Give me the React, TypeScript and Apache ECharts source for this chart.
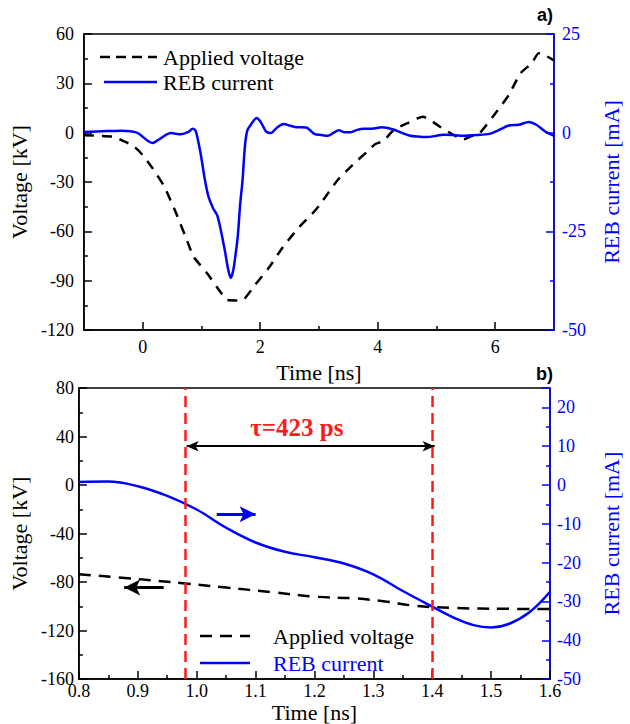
import React, { useEffect, useRef } from "react";
import * as echarts from "echarts";

// ---- Panel a) data ----
const topVoltageTime = [-1.0, -0.5, -0.3, -0.14, 0.0, 0.17, 0.37, 0.57, 0.73, 0.87, 1.1, 1.32, 1.44, 1.6, 1.72, 1.91, 2.14, 2.39, 2.67, 2.89, 3.0, 3.32, 3.57, 3.85, 3.96, 4.1, 4.27, 4.52, 4.77, 4.9, 5.06, 5.25, 5.45, 5.6, 5.73, 5.98, 6.23, 6.43, 6.62, 6.74, 6.85, 7.0];
const topVoltageKV = [-1.5, -2.5, -5.5, -8.6, -13.6, -21.7, -32.9, -49, -63.3, -75.5, -85.6, -96.7, -101.8, -102, -101.4, -92.7, -82.5, -69.4, -57.2, -49.1, -44.5, -28.8, -19.7, -10.6, -6.9, -5, 1.6, 6.0, 9.7, 7.5, 3.6, -0.5, -4.1, -2, -0.4, 10.7, 22.9, 36.1, 42.2, 48.3, 47, 44];

const topCurrentTime = [-1.0, -0.6, -0.36, -0.1, 0.17, 0.3, 0.48, 0.65, 0.78, 0.85, 0.9, 0.95, 1.0, 1.06, 1.12, 1.2, 1.27, 1.34, 1.4, 1.46, 1.5, 1.54, 1.58, 1.62, 1.66, 1.7, 1.74, 1.78, 1.84, 1.94, 2.0, 2.05, 2.1, 2.18, 2.28, 2.4, 2.5, 2.61, 2.78, 2.92, 3.04, 3.15, 3.25, 3.34, 3.44, 3.54, 3.65, 3.76, 3.9, 4.07, 4.27, 4.4, 4.55, 4.7, 4.83, 5.0, 5.11, 5.3, 5.45, 5.7, 5.9, 6.05, 6.23, 6.4, 6.57, 6.7, 6.85, 7.0];
const topCurrentMA = [0.2, 0.4, 0.5, 0.0, -2.6, -1.5, -0.1, -0.4, 0.2, 1.0, 0.5, -2.5, -6.5, -12, -16.2, -19.2, -21, -25.4, -30, -35, -36.8, -35, -31, -26, -18, -12, -3.5, 0.5, 2.0, 3.7, 2.9, 1.6, 0.3, -0.1, 1.2, 2.2, 1.8, 1.4, 1.3, -0.3, -0.6, -0.8, 0.0, 0.6, 0.1, 0.1, 0.7, 1.0, 1.0, 1.4, 0.8, 0.0, -0.8, -1.0, -1.1, -0.8, -0.5, -0.6, -0.8, -0.6, -0.3, 0.6, 1.8, 2.0, 2.7, 2.0, 0.3, -0.8];

// ---- Panel b) data ----
const botVoltageTime = [0.8, 0.9, 0.98, 1.05, 1.13, 1.2, 1.27, 1.32, 1.37, 1.44, 1.52, 1.6];
const botVoltageKV = [-73.5, -77.5, -81.1, -84.5, -88.4, -92.0, -93.5, -96.0, -99.5, -101.4, -102, -102.3];

const botCurrentTime = [0.8, 0.85, 0.9, 0.95, 1.0, 1.05, 1.1, 1.15, 1.2, 1.25, 1.3, 1.35, 1.4, 1.44, 1.47, 1.5, 1.53, 1.565, 1.6];
const botCurrentMA = [0.8, 0.9, -0.3, -2.8, -6.3, -11.0, -14.8, -17.2, -18.6, -20.2, -23.0, -27.3, -31.3, -34.4, -36.1, -36.7, -35.8, -32.8, -27.5];

// Annotation values (panel b)
const tauStart = 0.983;
const tauEnd = 1.404;
const tauArrowMA = 10;
const tauLabel = "τ=423 ps";
const tauLabelPos = [1.17, 14.8];
const blueArrow = [[1.034, -7.5], [1.1, -7.5]];
const blackArrow = [[0.944, -84.4], [0.877, -84.4]];

// Axis tick values
const topMajorTicks = [0, 2, 4, 6];
const topMinorTicks = [1, 3, 5];

const seriesNames = ["Applied voltage", "REB current"];
const panelLabels = ["a)", "b)"];

const FONT = "Liberation Serif";
const SANS = "Liberation Sans";
const BLUE = "#0000ff";
const RED = "#ff1a1a";

const zip = (xs: number[], ys: number[]) => xs.map((x, i) => [x, ys[i]]);

export default function App() {
  const ref = useRef<HTMLDivElement>(null);

  useEffect(() => {
    document.body.style.margin = "0";
    if (!ref.current) return;
    const chart = echarts.init(ref.current, undefined, { renderer: "svg" });

    const tick = (color: string, len: number) => ({
      show: true,
      inside: true,
      length: len,
      lineStyle: { color, width: 1.5 },
    });
    const minor = (color: string) => ({
      show: true,
      splitNumber: 2,
      length: 4,
      lineStyle: { color, width: 1.5 },
    });
    const line = (color: string) => ({ show: true, onZero: false, lineStyle: { color, width: 1.5 } });
    const label = (color: string, margin: number, extra: any = {}) => ({
      color,
      fontSize: 18,
      fontFamily: FONT,
      margin,
      ...extra,
    });
    const nameStyle = (color: string) => ({ color, fontSize: 22, fontFamily: FONT });

    const option: any = {
      animation: false,
      backgroundColor: "#fff",
      textStyle: { fontFamily: FONT },
      grid: [
        { left: 77, top: 34, width: 478, height: 296, show: true, borderColor: "#000", borderWidth: 1.5, backgroundColor: "transparent" },
        { left: 77, top: 388, width: 478, height: 295, show: true, borderColor: "#000", borderWidth: 1.5, backgroundColor: "transparent" },
      ],
      xAxis: [
        {
          gridIndex: 0,
          type: "value",
          position: "bottom",
          min: -1,
          max: 7,
          interval: 1,
          axisLine: line("#000"),
          axisTick: { ...tick("#000", 8), customValues: topMajorTicks },
          axisLabel: label("#000", 8, {
            customValues: topMajorTicks,
            formatter: (v: number) => (Math.round(v) % 2 === 0 ? String(v) : ""),
          }),
          splitLine: { show: false },
          name: "Time [ns]",
          nameLocation: "middle",
          nameGap: 31,
          nameTextStyle: nameStyle("#000"),
        },
        {
          gridIndex: 0,
          type: "value",
          position: "bottom",
          min: -1,
          max: 7,
          interval: 1,
          axisLine: { show: false, onZero: false },
          axisTick: { ...tick("#000", 4), customValues: topMinorTicks },
          axisLabel: { show: false },
          splitLine: { show: false },
        },
        {
          gridIndex: 1,
          type: "value",
          position: "bottom",
          min: 0.8,
          max: 1.6,
          interval: 0.1,
          axisLine: line("#000"),
          axisTick: tick("#000", 8),
          minorTick: minor("#000"),
          axisLabel: label("#000", 3, { formatter: (v: number) => v.toFixed(1) }),
          splitLine: { show: false },
          name: "Time [ns]",
          nameLocation: "middle",
          nameGap: 17,
          nameTextStyle: nameStyle("#000"),
        },
      ],
      yAxis: [
        {
          gridIndex: 0,
          type: "value",
          position: "left",
          min: -120,
          max: 60,
          interval: 30,
          axisLine: line("#000"),
          axisTick: tick("#000", 8),
          minorTick: minor("#000"),
          axisLabel: label("#000", 10),
          splitLine: { show: false },
          name: "Voltage [kV]",
          nameLocation: "middle",
          nameGap: 45,
          nameTextStyle: nameStyle("#000"),
        },
        {
          gridIndex: 0,
          type: "value",
          position: "right",
          min: -50,
          max: 25,
          interval: 25,
          axisLine: line(BLUE),
          axisTick: tick(BLUE, 8),
          minorTick: minor(BLUE),
          axisLabel: label(BLUE, 8),
          splitLine: { show: false },
          name: "REB current [mA]",
          nameLocation: "middle",
          nameGap: 46,
          nameTextStyle: nameStyle(BLUE),
        },
        {
          gridIndex: 1,
          type: "value",
          position: "left",
          min: -160,
          max: 80,
          interval: 40,
          axisLine: line("#000"),
          axisTick: tick("#000", 8),
          minorTick: minor("#000"),
          axisLabel: label("#000", 5),
          splitLine: { show: false },
          name: "Voltage [kV]",
          nameLocation: "middle",
          nameGap: 42,
          nameTextStyle: nameStyle("#000"),
        },
        {
          gridIndex: 1,
          type: "value",
          position: "right",
          min: -50,
          max: 25,
          interval: 10,
          axisLine: line(BLUE),
          axisTick: tick(BLUE, 8),
          minorTick: minor(BLUE),
          axisLabel: label(BLUE, 7, { showMaxLabel: false }),
          splitLine: { show: false },
          name: "REB current [mA]",
          nameLocation: "middle",
          nameGap: 50,
          nameTextStyle: nameStyle(BLUE),
        },
      ],
      series: [
        {
          name: seriesNames[0],
          type: "line",
          xAxisIndex: 0,
          yAxisIndex: 0,
          data: zip(topVoltageTime, topVoltageKV),
          showSymbol: false,
          symbol: "none",
          smooth: 0.2,
          lineStyle: { color: "#000", width: 2.5, type: [10, 8] },
          z: 3,
        },
        {
          name: seriesNames[1],
          type: "line",
          xAxisIndex: 0,
          yAxisIndex: 1,
          data: zip(topCurrentTime, topCurrentMA),
          showSymbol: false,
          symbol: "none",
          smooth: 0.3,
          lineStyle: { color: BLUE, width: 2.5 },
          z: 4,
        },
        {
          name: seriesNames[0],
          type: "line",
          xAxisIndex: 2,
          yAxisIndex: 2,
          data: zip(botVoltageTime, botVoltageKV),
          showSymbol: false,
          symbol: "none",
          smooth: 0.4,
          lineStyle: { color: "#000", width: 2.5, type: [12, 8] },
          z: 3,
          markLine: {
            silent: true,
            animation: false,
            label: { show: false },
            data: [
              [
                { coord: blackArrow[0], symbol: "none", lineStyle: { color: "#000", width: 3, type: "solid" } },
                { coord: blackArrow[1], symbol: "arrow", symbolSize: [12, 16] },
              ],
            ],
          },
        },
        {
          name: seriesNames[1],
          type: "line",
          xAxisIndex: 2,
          yAxisIndex: 3,
          data: zip(botCurrentTime, botCurrentMA),
          showSymbol: false,
          symbol: "none",
          smooth: 0.4,
          lineStyle: { color: BLUE, width: 2.5 },
          z: 4,
          markLine: {
            silent: true,
            animation: false,
            label: { show: false },
            symbol: "none",
            data: [
              { xAxis: tauStart, lineStyle: { color: RED, width: 2.5, type: [11, 6] } },
              { xAxis: tauEnd, lineStyle: { color: RED, width: 2.5, type: [11, 6] } },
              [
                { coord: [tauStart, tauArrowMA], symbol: "arrow", symbolSize: [8, 12], lineStyle: { color: "#000", width: 2, type: "solid" } },
                { coord: [tauEnd, tauArrowMA], symbol: "arrow", symbolSize: [8, 12] },
              ],
              [
                { coord: blueArrow[0], symbol: "none", lineStyle: { color: BLUE, width: 3, type: "solid" } },
                { coord: blueArrow[1], symbol: "arrow", symbolSize: [12, 16] },
              ],
            ],
          },
          markPoint: {
            silent: true,
            animation: false,
            data: [
              {
                coord: tauLabelPos,
                symbol: "rect",
                symbolSize: 1,
                itemStyle: { color: "rgba(0,0,0,0)" },
                label: {
                  show: true,
                  position: "inside",
                  formatter: tauLabel,
                  color: RED,
                  fontSize: 25,
                  fontWeight: "bold",
                  fontFamily: FONT,
                },
              },
            ],
          },
        },
      ],
      graphic: [
        // panel a legend
        { type: "line", shape: { x1: 100, y1: 57, x2: 157, y2: 57 }, style: { stroke: "#000", lineWidth: 2.5, lineDash: [10, 6] } },
        { type: "text", x: 163, y: 57, style: { text: seriesNames[0], fontSize: 22, fontFamily: FONT, fill: "#000", verticalAlign: "middle" } },
        { type: "line", shape: { x1: 104, y1: 82, x2: 157, y2: 82 }, style: { stroke: BLUE, lineWidth: 2.5 } },
        { type: "text", x: 163, y: 82, style: { text: seriesNames[1], fontSize: 22, fontFamily: FONT, fill: "#000", verticalAlign: "middle" } },
        // panel b legend
        { type: "line", shape: { x1: 200, y1: 636, x2: 250, y2: 636 }, style: { stroke: "#000", lineWidth: 2.5, lineDash: [12, 8] } },
        { type: "text", x: 273, y: 636, style: { text: seriesNames[0], fontSize: 22, fontFamily: FONT, fill: "#000", verticalAlign: "middle" } },
        { type: "line", shape: { x1: 200, y1: 663, x2: 250, y2: 663 }, style: { stroke: BLUE, lineWidth: 2.5 } },
        { type: "text", x: 273, y: 663, style: { text: seriesNames[1], fontSize: 22, fontFamily: FONT, fill: BLUE, verticalAlign: "middle" } },
        // panel labels
        { type: "text", x: 553, y: 15, style: { text: panelLabels[0], fontSize: 18, fontWeight: "bold", fontFamily: SANS, fill: "#000", align: "right", verticalAlign: "middle" } },
        { type: "text", x: 553, y: 374, style: { text: panelLabels[1], fontSize: 18, fontWeight: "bold", fontFamily: SANS, fill: "#000", align: "right", verticalAlign: "middle" } },
      ],
    };

    chart.setOption(option);
    return () => chart.dispose();
  }, []);

  return <div ref={ref} style={{ width: 630, height: 724 }} />;
}
